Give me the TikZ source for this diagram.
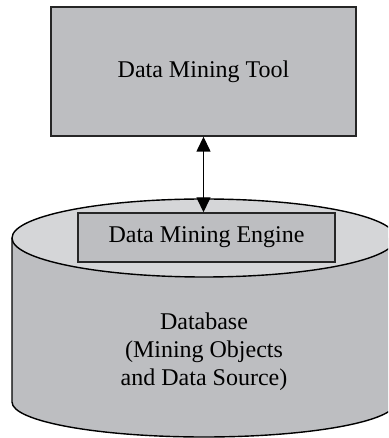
\documentclass[tikz,border=0pt]{standalone}
\usepackage{fontspec}
\setmainfont{Liberation Serif}
\usepackage{tikz}
\usetikzlibrary{arrows.meta,positioning}

\definecolor{boxgray}{HTML}{BDBEC1}
\definecolor{lidgray}{HTML}{D5D6D8}
\tikzset{
    block/.style={draw=black!85, line width=1.4pt, fill=boxgray, inner sep=0pt},
    bigtext/.style={font=\fontsize{24}{28}\selectfont},
    bigtip/.tip={Triangle[length=15pt, width=14pt]}
}

\begin{document}
\begin{tikzpicture}[x=1pt, y=1pt]
    \clip (0, 0) rectangle (388, 438);
    \fill[white] (0, 0) rectangle (388, 438);
    % database cylinder
    \draw[line width=1.4pt, fill=boxgray] (12, 200) -- (12, 36)
        arc[start angle=180, end angle=360, x radius=192, y radius=35] -- (396, 200);
    \draw[line width=1.4pt, fill=lidgray] (204, 200) ellipse [x radius=192, y radius=39];
    \node[block, bigtext, minimum width=305pt, minimum height=129pt] (tool) at (203.5, 366.5) {Data Mining Tool};
    \node[block, bigtext, minimum width=257pt, minimum height=49pt] (engine) at (206.5, 200.5) {Data Mining Engine};
    \node[bigtext, align=center] (db) at (204, 86) {Database\\(Mining Objects\\and Data Source)};
    \draw
    (tool.south) edge[bigtip-bigtip, line width=1.4pt] (tool.south |- engine.north);
\end{tikzpicture}
\end{document}
